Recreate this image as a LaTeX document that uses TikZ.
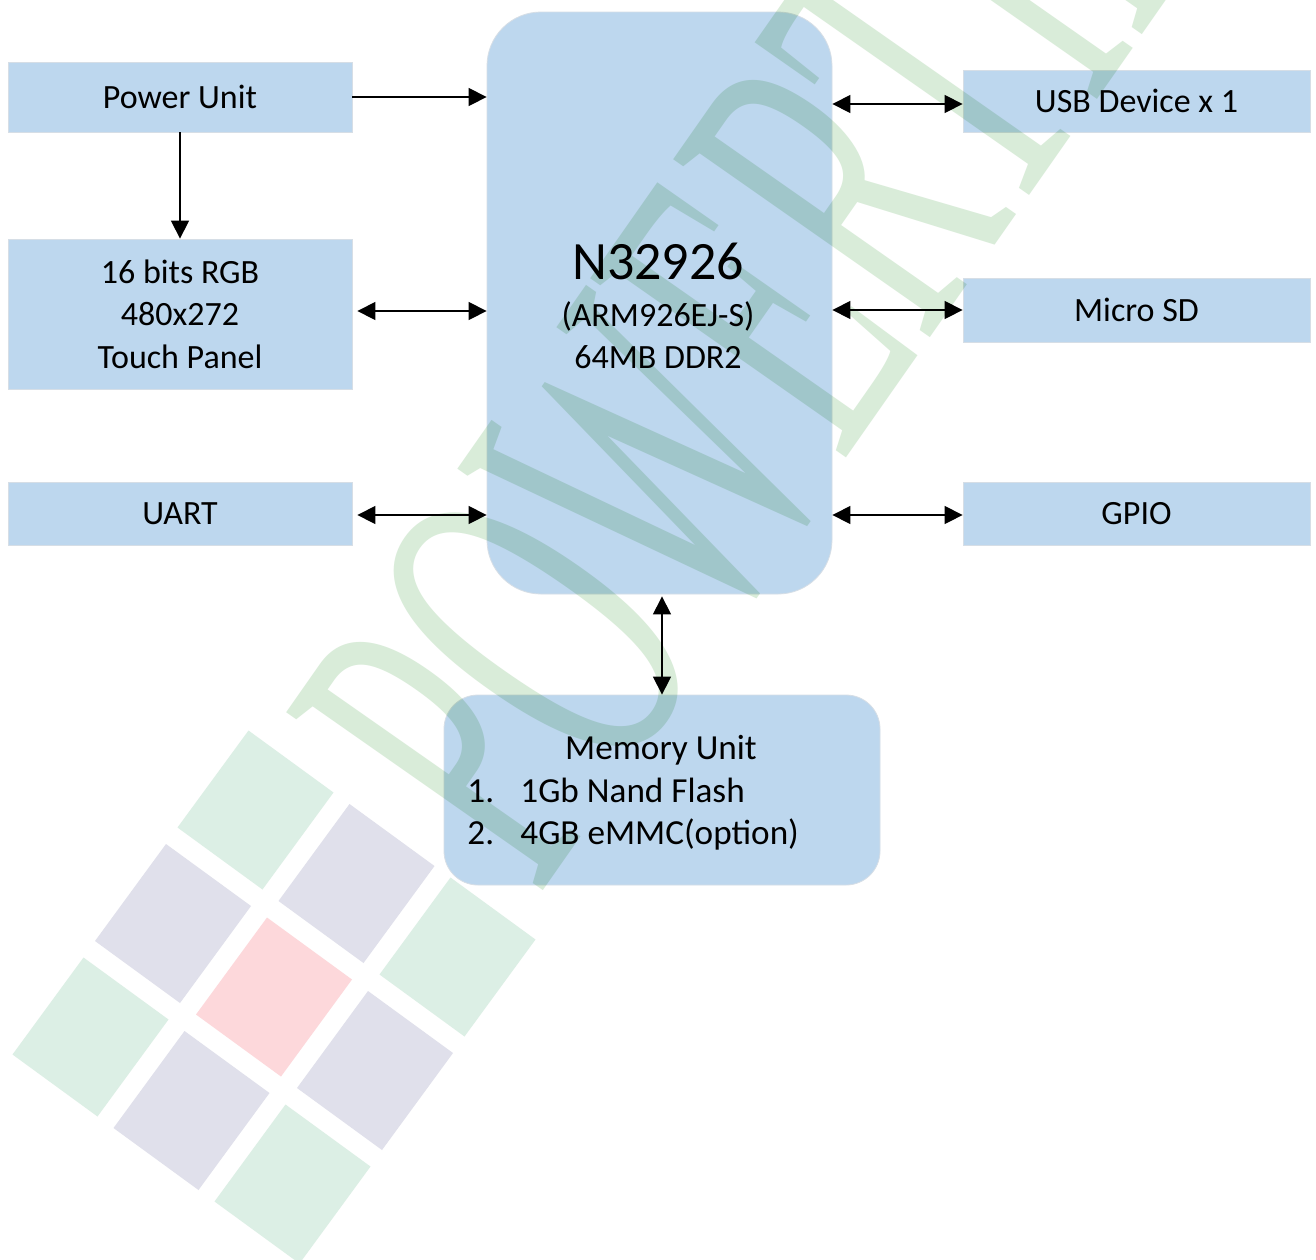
\documentclass[tikz,border=0pt]{standalone}
\usepackage{fontspec}
\setmainfont{Carlito}
\newfontfamily\wmfont{Liberation Serif}[FakeStretch=0.5]
\usetikzlibrary{arrows.meta}
\definecolor{boxblue}{RGB}{189,215,238}
\definecolor{boxedge}{RGB}{214,222,230}
\definecolor{sqgreen}{RGB}{220,239,229}
\definecolor{sqpurple}{RGB}{224,224,235}
\definecolor{sqred}{RGB}{253,216,219}
\definecolor{wmgreen}{RGB}{217,236,217}
\begin{document}
\begin{tikzpicture}[x=0.5pt,y=-0.5pt,
  blk/.style={fill=boxblue, draw=boxedge, line width=0.4pt, inner sep=0pt,
    font=\fontsize{17}{21.25}\selectfont, align=center},
  lbl/.style={inner sep=0pt, font=\fontsize{17}{21.25}\selectfont},
  mlbl/.style={inner sep=0pt, font=\fontsize{17.6}{21.25}\selectfont},
  conn/.style={line width=0.65pt, -{Triangle[length=9pt,width=9pt]}},
  bconn/.style={line width=0.65pt, {Triangle[length=9pt,width=9pt]}-{Triangle[length=9pt,width=9pt]}},
  wm/.style={anchor=base west, rotate=55, inner sep=0pt, text=wmgreen,
    font=\wmfont\fontsize{238.5}{240}\selectfont}
]
\useasboundingbox (0,0) rectangle (1316,1259);
\fill[white] (0,0) rectangle (1316,1259);

% logo squares
\foreach \cx/\cy/\col in {255.5/810/sqgreen, 173/923.5/sqpurple, 356.5/883.5/sqpurple,
  274/997/sqred, 457.5/957/sqgreen, 90.5/1037/sqgreen, 191.5/1110.5/sqpurple,
  375/1070.5/sqpurple, 292.5/1184/sqgreen}
  \fill[\col] (\cx,\cy) ++(-7,-79.5) -- ++(85,62) -- ++(-71,97) -- ++(-85,-62) -- cycle;

% blocks
\node[blk, minimum width=172pt, minimum height=35pt] (pwr) at (180,97) {Power Unit};
\node[blk, minimum width=172pt, minimum height=75pt] (rgb) at (180,314) {16 bits RGB\\480x272\\Touch Panel};
\node[blk, minimum width=172pt, minimum height=31.5pt] (uart) at (180,513.5) {UART};
\node[blk, rounded corners=27pt, minimum width=172.5pt, minimum height=291pt] (cpu) at (659.5,303) {};
\node[lbl, font=\fontsize{27}{30}\selectfont, anchor=base] (cpuname) at (658,279.5) {N32926};
\node[lbl, anchor=base] (cpucore) at (658,326) {(ARM926EJ-S)};
\node[lbl, anchor=base] (cpuram) at (658,368) {64MB DDR2};
\node[blk, rounded corners=17pt, minimum width=218pt, minimum height=95pt] (mem) at (662,790) {};
\node[mlbl, anchor=base] (memtitle) at (661,759) {Memory Unit};
\node[mlbl, anchor=base west] (memn1) at (467,802) {1.};
\node[mlbl, anchor=base west] (memi1) at (520,802) {1Gb Nand Flash};
\node[mlbl, anchor=base west] (memn2) at (467,844) {2.};
\node[mlbl, anchor=base west] (memi2) at (520,844) {4GB eMMC(option)};
\node[blk, minimum width=173.5pt, minimum height=31pt] (usb) at (1136.5,101) {USB Device x 1};
\node[blk, minimum width=173.5pt, minimum height=32pt] (sd) at (1136.5,310) {Micro SD};
\node[blk, minimum width=173.5pt, minimum height=31.5pt] (gpio) at (1136.5,513.5) {GPIO};

% connectors
\draw[conn] (pwr.east) -- (pwr.east -| cpu.west);
\draw[conn] (pwr.south) -- (rgb.north);
\coordinate (rgbA) at ([shift={(2.5pt,1.5pt)}]rgb.east);
\draw[bconn] (rgbA) -- (rgbA -| cpu.west);
\coordinate (uartA) at ([shift={(2.5pt,-0.75pt)}]uart.east);
\draw[bconn] (uartA) -- (uartA -| cpu.west);
\coordinate (usbA) at ([yshift=-1.5pt]usb.west);
\draw[bconn] (usbA -| cpu.east) -- (usbA);
\draw[bconn] (sd.west -| cpu.east) -- (sd.west);
\coordinate (gpioA) at ([yshift=-0.75pt]gpio.west);
\draw[bconn] (gpioA -| cpu.east) -- (gpioA);
\coordinate (memA) at (mem.north |- cpu.south);
\draw[bconn] ([yshift=-1pt]memA) -- (mem.north);

% watermark
\begin{scope}[blend mode=multiply]
\node[wm] (wmtext) at (538,898) {POWERTIP};
\end{scope}
\end{tikzpicture}
\end{document}
